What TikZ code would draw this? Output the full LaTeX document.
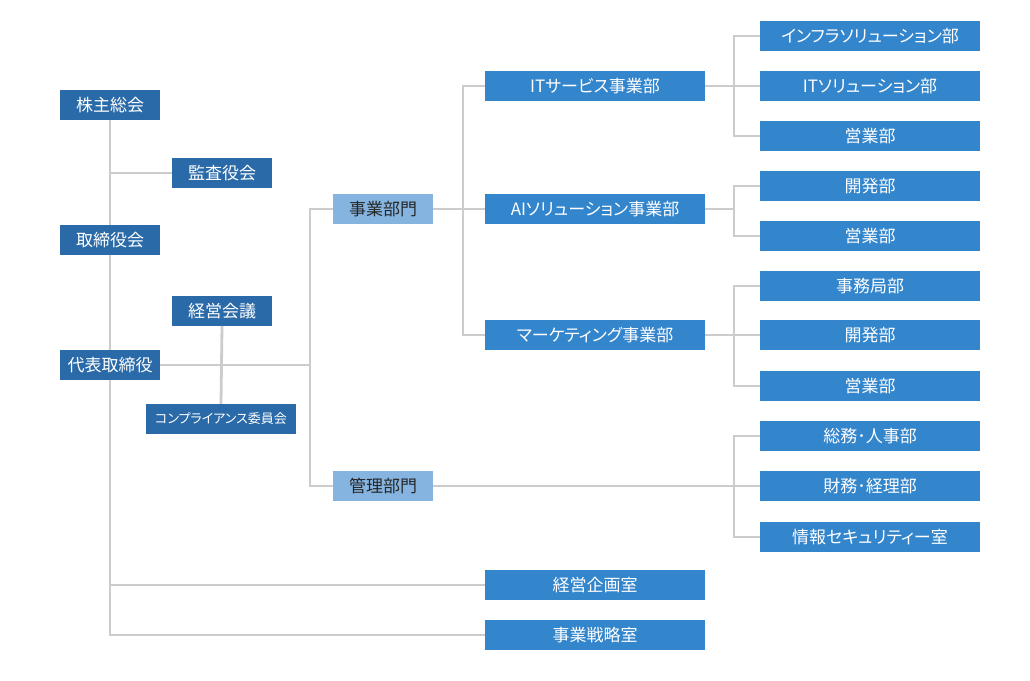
\documentclass[tikz,border=0pt]{standalone}
\usepackage{fontspec}
\newfontfamily\jp[RawFeature=+palt]{Noto Sans CJK JP}
\newfontfamily\jpk{Noto Sans CJK JP}
\definecolor{darkbox}{HTML}{2A6AA8}
\definecolor{midbox}{HTML}{3385CC}
\definecolor{lightbox}{HTML}{85B4E0}
\definecolor{linegray}{HTML}{CCCCCC}
\tikzset{
  base/.style={inner sep=0pt, minimum height=30pt, text=white, font=\jp\fontsize{17}{19}\selectfont},
  kbase/.style={base, font=\jpk\fontsize{17}{19}\selectfont},
  dbox/.style={kbase, fill=darkbox, minimum width=100pt},
  cbox/.style={base, fill=darkbox, minimum width=150pt, font=\jp\fontsize{13}{15}\selectfont},
  lbox/.style={kbase, fill=lightbox, minimum width=100pt, text=black!85},
  mbox/.style={base, fill=midbox, minimum width=220pt},
  conn/.style={draw=linegray, line width=2.8pt}
}
\begin{document}
\begin{tikzpicture}[x=1pt,y=-1pt]
\useasboundingbox (0,0) rectangle (1030,680);
% left column
\node[dbox] (kabu) at (110,105) {株主総会};
\node[dbox] (kansa) at (222,173) {監査役会};
\node[dbox] (tori) at (110,240) {取締役会};
\node[dbox] (keiei) at (222,311) {経営会議};
\node[dbox] (daihyo) at (110,365) {代表取締役};
\node[cbox] (comp) at (221,419) {コンプライアンス委員会};
% divisions
\node[lbox] (jigyo) at (383,209) {事業部門};
\node[lbox] (kanri) at (383,486) {管理部門};
% business units
\node[mbox] (it) at (595,86) {ITサービス事業部};
\node[mbox] (ai) at (595,209) {AIソリューション事業部};
\node[mbox] (mk) at (595,335) {マーケティング事業部};
\node[mbox] (kikaku) at (595,585) {経営企画室};
\node[mbox] (senryaku) at (595,635) {事業戦略室};
% departments
\node[mbox] (infra) at (870,36) {インフラソリューション部};
\node[mbox] (itsol) at (870,86) {ITソリューション部};
\node[mbox] (eig1) at (870,136) {営業部};
\node[mbox] (kai1) at (870,186) {開発部};
\node[mbox] (eig2) at (870,236) {営業部};
\node[mbox] (jimu) at (870,286) {事務局部};
\node[mbox] (kai2) at (870,335) {開発部};
\node[mbox] (eig3) at (870,386) {営業部};
\node[mbox] (somu) at (870,436) {総務･人事部};
\node[mbox] (zaimu) at (870,486) {財務･経理部};
\node[mbox] (joho) at (870,537) {情報セキュリティー室};
% junction coordinates
\coordinate (ja) at (310,365);
\coordinate (jb) at (463,209);
\coordinate (jc) at (734,86);
\coordinate (jd) at (734,209);
\coordinate (je) at (734,335);
\coordinate (jf) at (734,486);
% connectors
\draw[conn] (kabu.south) -- (tori.north);
\draw[conn] (tori.south) -- (daihyo.north);
\draw[conn] (daihyo.south) |- (senryaku.west);
\draw[conn] (daihyo.south |- kikaku.west) -- (kikaku.west);
\draw[conn] (kabu.south |- kansa.west) -- (kansa.west);
\draw[conn] (keiei.south) -- (comp.north);
\draw[conn] (daihyo.east) -- (ja);
\draw[conn] (ja) |- (jigyo.west);
\draw[conn] (ja) |- (kanri.west);
\draw[conn] (jigyo.east) -- (ai.west);
\draw[conn] (jb) |- (it.west);
\draw[conn] (jb) |- (mk.west);
\draw[conn] (it.east) -- (itsol.west);
\draw[conn] (jc) |- (infra.west);
\draw[conn] (jc) |- (eig1.west);
\draw[conn] (ai.east) -- (jd);
\draw[conn] (jd) |- (kai1.west);
\draw[conn] (jd) |- (eig2.west);
\draw[conn] (mk.east) -- (kai2.west);
\draw[conn] (je) |- (jimu.west);
\draw[conn] (je) |- (eig3.west);
\draw[conn] (kanri.east) -- (zaimu.west);
\draw[conn] (jf) |- (somu.west);
\draw[conn] (jf) |- (joho.west);
\end{tikzpicture}
\end{document}
